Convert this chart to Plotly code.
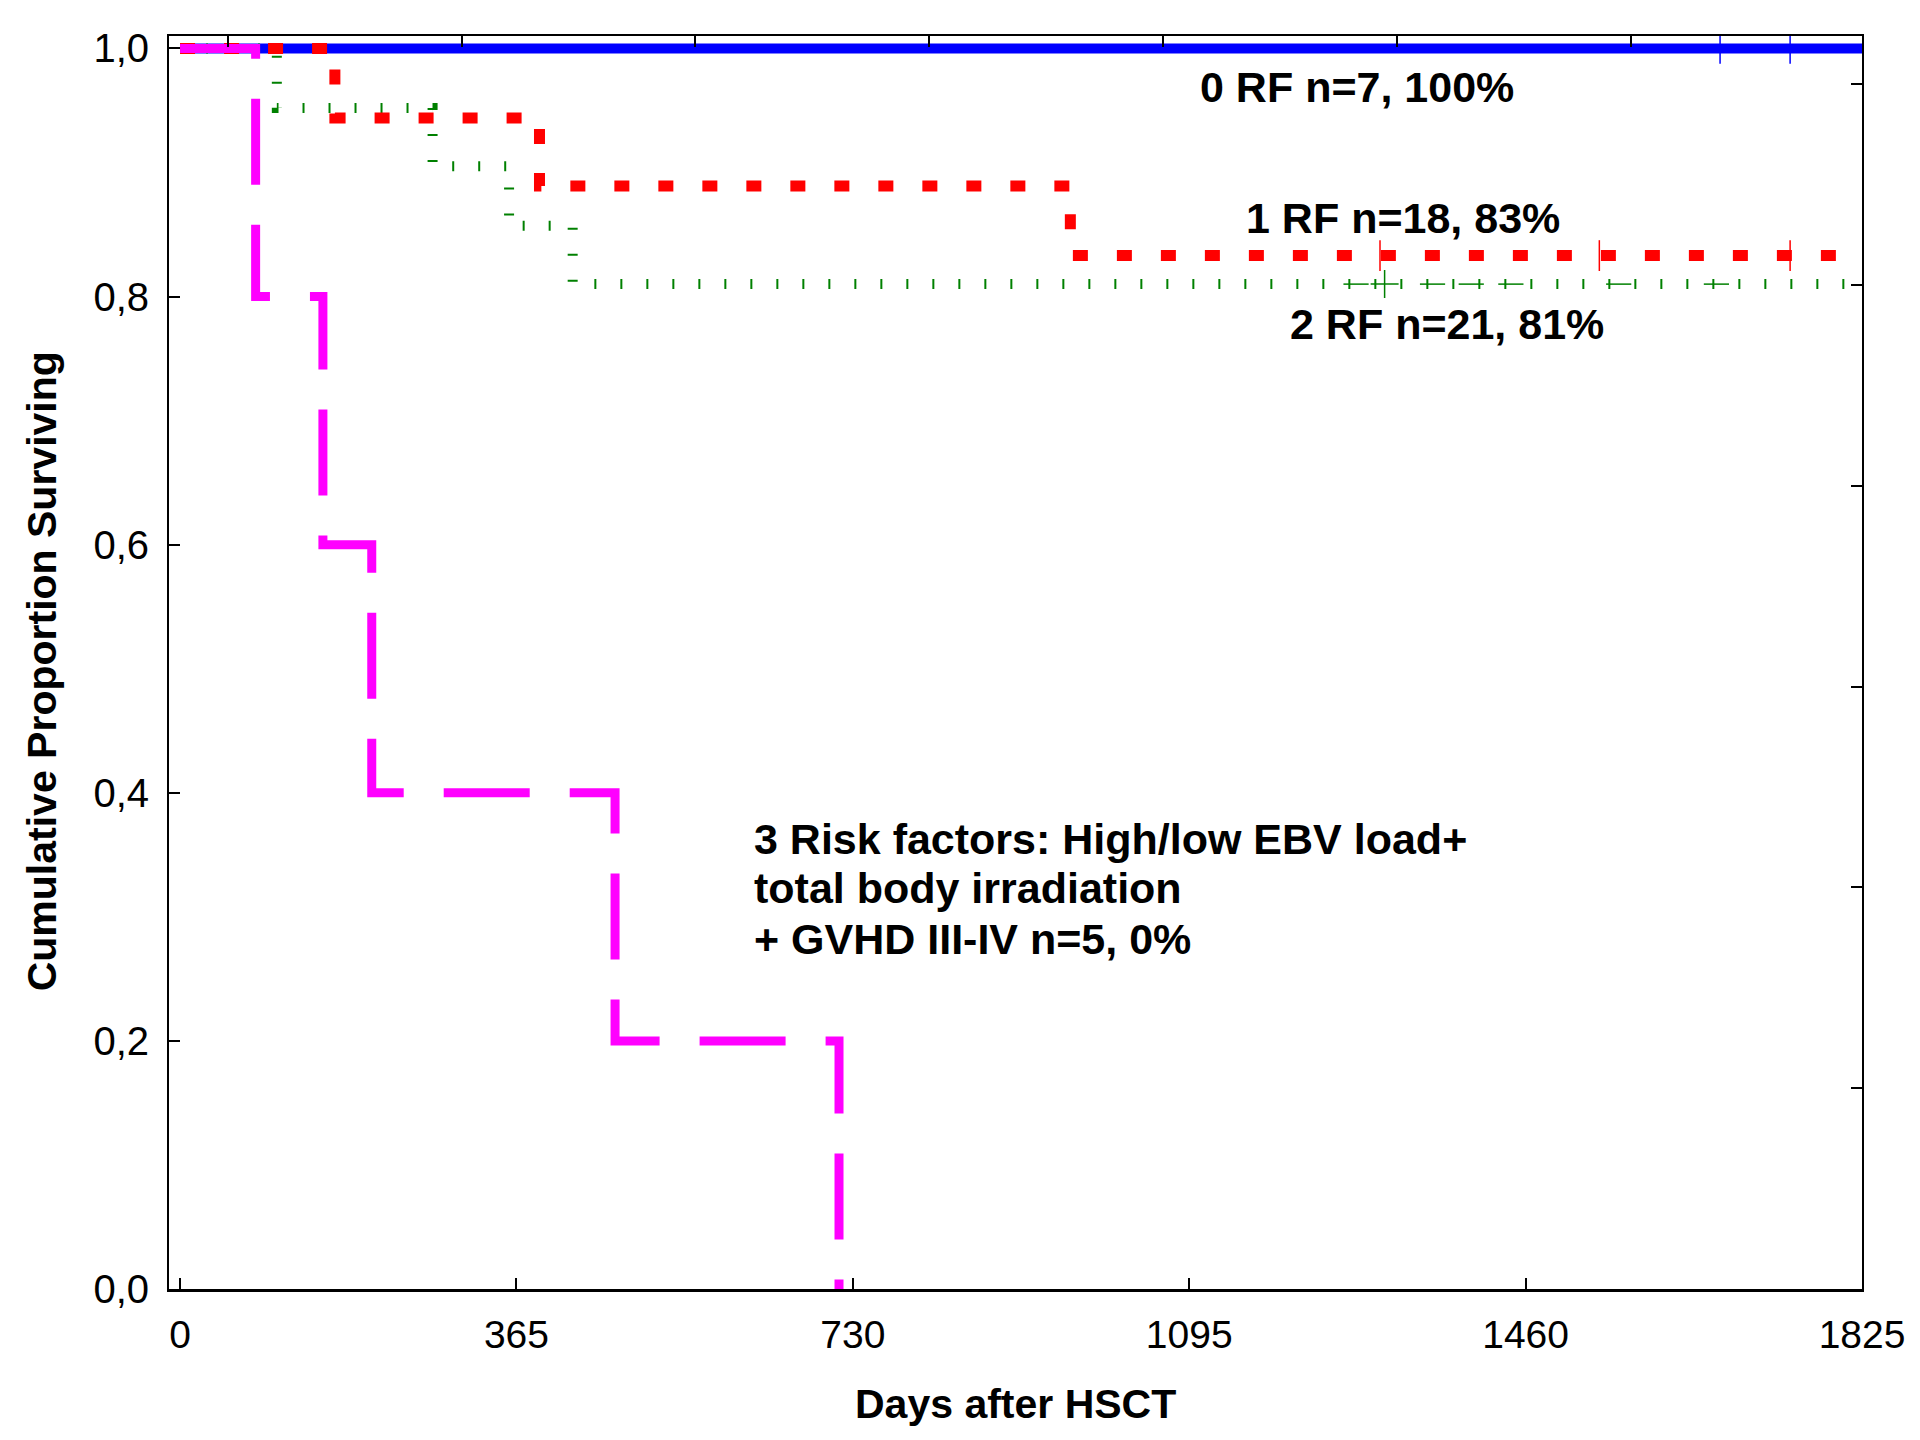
import plotly.graph_objs as go

###
# Kaplan-Meier curves (days after HSCT, cumulative proportion surviving)
days_0rf = [0, 1825]
surv_0rf = [1.0, 1.0]
cens_0rf = [1671, 1747]

days_1rf = [0, 168, 390, 966, 1825]
surv_1rf = [1.0, 0.944, 0.889, 0.833, 0.833]
cens_1rf = [1302, 1540, 1747]

days_2rf = [0, 105, 274, 357, 426, 1825]
surv_2rf = [1.0, 0.952, 0.905, 0.857, 0.810, 0.810]
cens_2rf = [1276, 1359, 1401, 1444, 1561, 1667]
cross_2rf = [1307]

days_3rf = [0, 82, 155, 208, 472, 715]
surv_3rf = [1.0, 0.8, 0.6, 0.4, 0.2, 0.0]

# axes
x_ticks = [0, 365, 730, 1095, 1460, 1825]
y_ticks = [0.0, 0.2, 0.4, 0.6, 0.8, 1.0]
y_tick_labels = ["0,0", "0,2", "0,4", "0,6", "0,8", "1,0"]
top_ticks = [52, 306, 559, 813, 1066, 1320, 1574]
right_ticks = [0.162, 0.324, 0.485, 0.647, 0.809, 0.971]

# labels
label_0rf = "0 RF n=7, 100%"
label_1rf = "1 RF n=18, 83%"
label_2rf = "2 RF n=21, 81%"
label_3rf = ["3 Risk factors: High/low EBV load+",
             "total body irradiation",
             "+ GVHD III-IV n=5, 0%"]

FONT = "Arial, Liberation Sans, sans-serif"


def surv_at(days, surv, t):
  # step function value at time t
  val = surv[0]
  for d, s in zip(days, surv):
    if d <= t:
      val = s
  return val


def get_curve(days, surv, color, width, dash):
  return go.Scatter(
    x = days,
    y = surv,
    mode = "lines",
    line = dict(color=color, width=width, dash=dash, shape="hv"),
    hoverinfo = "skip",
  )


def get_censored(days, surv, times, color, symbol="line-ns", size=22):
  return go.Scatter(
    x = times,
    y = [surv_at(days, surv, t) for t in times],
    mode = "markers",
    marker = dict(symbol=symbol, size=size, color=color,
                  line=dict(color=color, width=1.5)),
    hoverinfo = "skip",
  )


def main():
  fig = go.Figure()
  fig.add_trace(get_curve(days_0rf, surv_0rf, "#0000ff", 10, "solid"))
  fig.add_trace(get_curve(days_2rf, surv_2rf, "#008000", 10, "2px,24px"))
  fig.add_trace(get_curve(days_1rf, surv_1rf, "#ff0000", 11, "15px,29px"))
  fig.add_trace(get_curve(days_3rf, surv_3rf, "#ff00ff", 9, "86px,40px"))

  fig.add_trace(get_censored(days_0rf, surv_0rf, cens_0rf, "#0000ff"))
  fig.add_trace(get_censored(days_1rf, surv_1rf, cens_1rf, "#ff0000"))
  fig.add_trace(get_censored(days_2rf, surv_2rf, cens_2rf, "#008000", "line-ew", 18))
  fig.add_trace(get_censored(days_2rf, surv_2rf, cross_2rf, "#008000", "cross-thin", 20))

  # empty trace so the mirrored (top / right) axes get drawn
  fig.add_trace(go.Scatter(x=[], y=[], xaxis="x2", yaxis="y2", showlegend=False))

  axis_common = dict(
    showline=True, linecolor="black", showgrid=False, zeroline=False,
    ticks="inside", ticklen=11, tickwidth=2, tickcolor="black",
  )

  annotations = [
    dict(x=1277, y=0.969, text="<b>%s</b>" % label_0rf),
    dict(x=1327, y=0.863, text="<b>%s</b>" % label_1rf),
    dict(x=1375, y=0.778, text="<b>%s</b>" % label_2rf),
  ]
  for a in annotations:
    a.update(xref="x", yref="y", showarrow=False, xanchor="center", yanchor="middle",
             font=dict(size=43, color="black", family=FONT))

  for i, line in enumerate(label_3rf):
    annotations.append(dict(
      x=621, y=[0.363, 0.323, 0.282][i], xref="x", yref="y",
      text="<b>%s</b>" % line, showarrow=False, xanchor="left", yanchor="middle",
      font=dict(size=43, color="black", family=FONT)))

  # axis titles
  annotations.append(dict(
    x=0.5, y=-0.092, xref="paper", yref="paper", text="<b>Days after HSCT</b>",
    showarrow=False, xanchor="center", yanchor="middle",
    font=dict(size=41, color="black", family=FONT)))
  annotations.append(dict(
    x=-0.075, y=0.493, xref="paper", yref="paper", text="<b>Cumulative Proportion Surviving</b>",
    showarrow=False, xanchor="center", yanchor="middle", textangle=-90,
    font=dict(size=41, color="black", family=FONT)))

  # the page adds an 8px body margin, so the margins are shifted by that much
  fig.update_layout(
    width=1920, height=1440,
    margin=dict(l=161, r=66, t=28, b=159),
    plot_bgcolor="white", paper_bgcolor="white",
    showlegend=False,
    font=dict(family=FONT, color="black"),
    xaxis=dict(axis_common, range=[-12, 1825], tickvals=x_ticks, linewidth=3,
               tickfont=dict(size=39), ticklabelstandoff=9),
    yaxis=dict(axis_common, range=[0, 1.01], tickvals=y_ticks, ticktext=y_tick_labels,
               linewidth=2, tickfont=dict(size=40), ticklabelstandoff=10),
    xaxis2=dict(axis_common, overlaying="x", anchor="y", side="top", range=[-12, 1825],
                tickvals=top_ticks, showticklabels=False, linewidth=2),
    yaxis2=dict(axis_common, overlaying="y", anchor="x", side="right", range=[0, 1.01],
                tickvals=right_ticks, showticklabels=False, linewidth=2),
    annotations=annotations,
  )

  fig.write_html("out.html")


if __name__ == '__main__':
  main()
